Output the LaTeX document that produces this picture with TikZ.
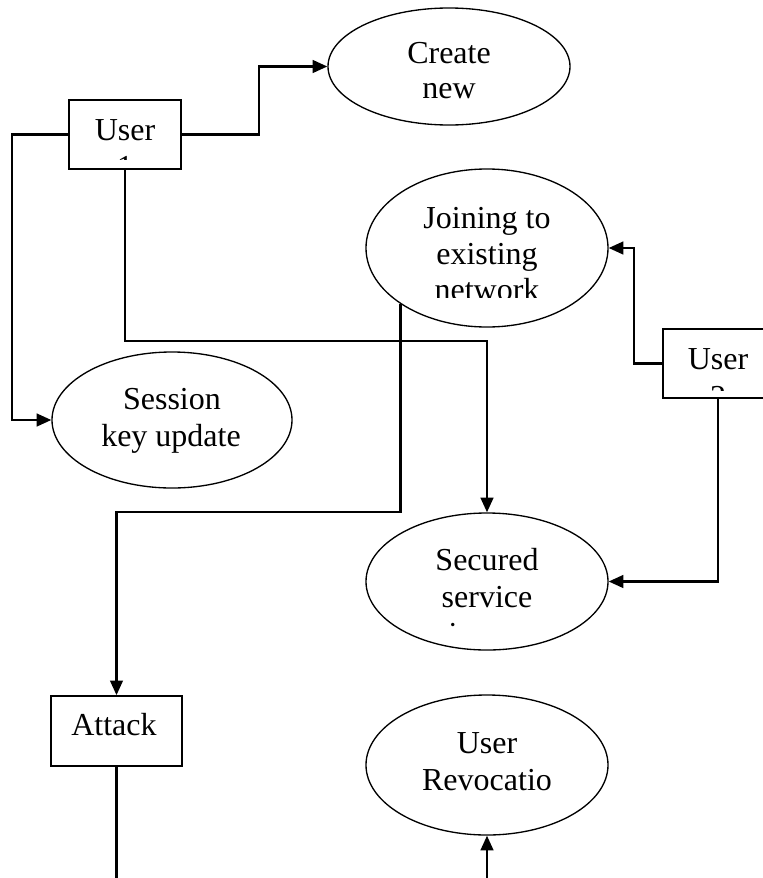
\documentclass[tikz,border=0pt]{standalone}
\usepackage{fontspec}
\setmainfont{Liberation Serif}
\usetikzlibrary{arrows.meta,shapes.geometric}
\begin{document}
\begin{tikzpicture}[x=0.75pt,y=-0.75pt,
  ell/.style={draw,ellipse,line width=1pt,inner sep=0pt},
  boxnode/.style={draw,rectangle,line width=1.25pt,inner sep=0pt},
  txt/.style={anchor=base,inner sep=0pt,font=\fontsize{24}{28}\selectfont},
  conn/.style={line width=1.75pt,-{Triangle[length=11pt,width=9.5pt]}},
  plain/.style={line width=1.75pt}]
\useasboundingbox (0,0) rectangle (763,878);
% shapes
\node[ell,minimum width=181.5pt,minimum height=87.75pt] (create) at (449,66.5) {};
\node[ell,minimum width=181.5pt,minimum height=118.5pt] (join) at (487,248) {};
\node[ell,minimum width=180pt,minimum height=102pt] (session) at (172,420) {};
\node[ell,minimum width=181.5pt,minimum height=102.75pt] (secured) at (487,581.5) {};
\node[ell,minimum width=181.5pt,minimum height=105pt] (revoc) at (487,765) {};
\node[boxnode,minimum width=84pt,minimum height=51.75pt] (u1) at (125,134.5) {};
\node[boxnode,minimum width=82.5pt,minimum height=51.75pt] (u2) at (718,363.5) {};
\node[boxnode,minimum width=98.25pt,minimum height=52.5pt] (attack) at (116.5,731) {};
% texts
\node[txt] (t-create-1) at (449,63) {Create};
\node[txt] (t-create-2) at (449,98) {new};
\node[txt] (t-u1-1) at (125,140) {User};
\begin{scope}\clip (70,101) rectangle (180,159);
\node[txt] (t-u1-2) at (125,177) {1};
\end{scope}
\node[txt] (t-join-1) at (487,228) {Joining to};
\node[txt] (t-join-2) at (487,264) {existing};
\begin{scope}\clip (380,270) rectangle (600,297);
\node[txt] (t-join-3) at (487,300) {network};
\end{scope}
\node[txt] (t-session-1) at (172,409) {Session};
\node[txt] (t-session-2) at (171,446) {key update};
\node[txt] (t-u2-1) at (718,369) {User};
\begin{scope}\clip (664,372) rectangle (763,390);
\node[txt] (t-u2-2) at (718,407) {2};
\end{scope}
\node[txt] (t-sec-1) at (487,570) {Secured};
\node[txt] (t-sec-2) at (487,607) {service};
\begin{scope}\clip (380,615) rectangle (600,626);
\node[txt] (t-sec-3) at (453,644) {i};
\end{scope}
\node[txt] (t-attack) at (114,735) {Attack};
\node[txt] (t-revoc-1) at (487,753) {User};
\node[txt] (t-revoc-2) at (487,790) {Revocatio};
% connectors
\coordinate (k4) at (116.5,512);
\coordinate (bot1) at (116.5,890);
\coordinate (bot2) at (487,890);
\draw[conn] (u1.east) -- ++(77,0) |- (create.west);
\draw[conn] (u1.west) -- ++(-56,0) |- (session.west);
\draw[conn] (u1.south) -- ++(0,171) -| (secured.north);
\draw[conn] (join.213) |- (k4) -- (attack.north);
\draw[conn] (u2.west) -- ++(-28,0) |- (join.east);
\draw[conn] (u2.south) |- (secured.east);
\draw[plain] (attack.south) -- (bot1);
\draw[conn] (bot2) -- (revoc.south);
\end{tikzpicture}
\end{document}
